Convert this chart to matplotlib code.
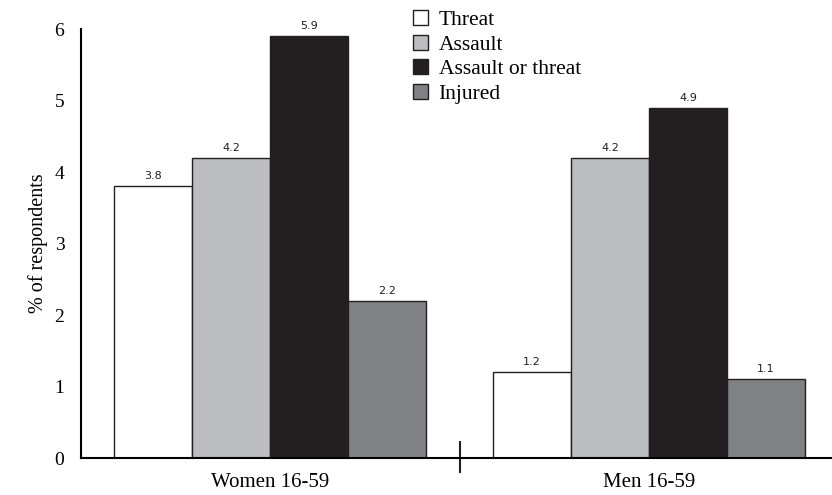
import matplotlib.pyplot as plt
import numpy as np

# --- Data ---
groups = ["Women 16-59", "Men 16-59"]
series = ["Threat", "Assault", "Assault or threat", "Injured"]
threat = [3.8, 1.2]
assault = [4.2, 4.2]
assault_or_threat = [5.9, 4.9]
injured = [2.2, 1.1]

colors = ["#ffffff", "#bcbdc0", "#231f20", "#808184"]

plt.rcParams['font.family'] = ['Liberation Serif', 'DejaVu Serif']

fig = plt.figure(figsize=(8.32, 4.95), dpi=100)
ax = fig.add_axes([0.0974, 0.0747, 0.9026, 0.8667])

x = np.arange(len(groups))
width = 0.206
offsets = [-1.5, -0.5, 0.5, 1.5]
all_vals = [threat, assault, assault_or_threat, injured]

for vals, off, col, name in zip(all_vals, offsets, colors, series):
    bars = ax.bar(x + off * width, vals, width, color=col, edgecolor="#231f20",
                  linewidth=1.0, label=name)
    for b, v in zip(bars, vals):
        ax.text(b.get_x() + b.get_width() / 2, v + 0.07, f"{v:.1f}",
                ha="center", va="bottom", fontsize=8, family="DejaVu Sans",
                color="#231f20")

ax.set_xlim(-0.5, 1.483)
ax.set_ylim(0, 6)
ax.set_yticks(range(0, 7))
ax.tick_params(axis="y", length=0, pad=12, labelsize=14)
ax.set_xticks(x)
ax.set_xticklabels(groups, fontsize=15)
ax.tick_params(axis="x", length=0, pad=11)

for s in ["top", "right"]:
    ax.spines[s].set_visible(False)
ax.spines["left"].set_linewidth(1.5)
ax.spines["bottom"].set_linewidth(1.5)

# divider tick between the two groups
ax.plot([0.5, 0.5], [-0.033, 0.037], color="#231f20", linewidth=1.5,
        transform=ax.get_xaxis_transform(), clip_on=False)

ax.set_ylabel("% of respondents", fontsize=14.5, labelpad=5)

ax.legend(loc="upper left", bbox_to_anchor=(0.436, 1.055), frameon=False,
          fontsize=15.5, handlelength=0.7, handleheight=0.7,
          handletextpad=0.5, labelspacing=0.22, borderaxespad=0,
          borderpad=0.2)

fig.savefig("out.png", dpi=100)
